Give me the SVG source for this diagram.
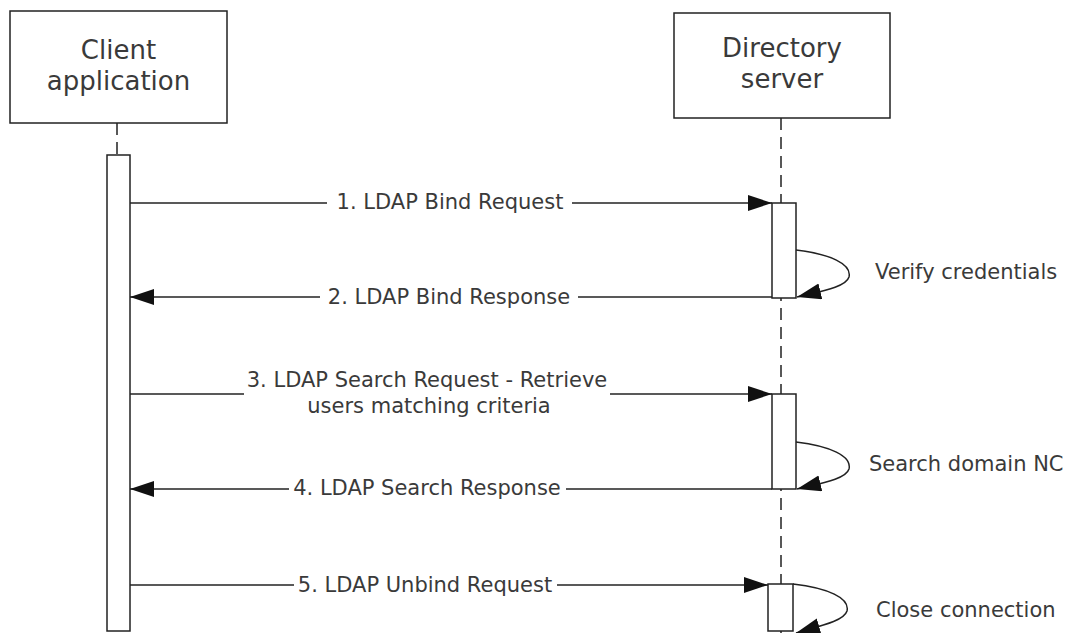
<svg xmlns="http://www.w3.org/2000/svg" width="1069" height="633" viewBox="0 0 1069 633">
<defs>
<style>
.box{fill:#fff;stroke:#222;stroke-width:1.5}
.act{fill:#fff;stroke:#222;stroke-width:1.5}
.life{fill:none;stroke:#222;stroke-width:1.5;stroke-dasharray:12 7}
.msg{fill:none;stroke:#222;stroke-width:1.5;marker-end:url(#ah)}
.seg{fill:none;stroke:#222;stroke-width:1.5}
.title{font-family:"DejaVu Sans","Verdana",sans-serif;font-size:26px;fill:#3a3a3a;text-anchor:middle}
.lbl{font-family:"DejaVu Sans","Verdana",sans-serif;font-size:21px;fill:#3a3a3a;text-anchor:middle}
.note{font-family:"DejaVu Sans","Verdana",sans-serif;font-size:21px;fill:#3a3a3a}
</style>
<marker id="ah" markerUnits="userSpaceOnUse" markerWidth="26" markerHeight="18" refX="24" refY="8" orient="auto">
<path d="M0,0 L24,8 L0,16 z" fill="#111"/>
</marker>
</defs>
<rect width="1069" height="633" fill="#fff"/>

<g id="lifelines">
<line class="life" x1="117" y1="123" x2="117" y2="155"/>
<line class="life" x1="781" y1="118" x2="781" y2="633"/>
</g>

<g id="client">
<rect class="box" x="10" y="11" width="217" height="112"/>
<text class="title" x="118.5" y="59">Client</text>
<text class="title" x="118.5" y="90">application</text>
<rect class="act" x="107" y="155" width="23" height="476"/>
</g>

<g id="server">
<rect class="box" x="674" y="13" width="216" height="105"/>
<text class="title" x="782" y="57">Directory</text>
<text class="title" x="782" y="88">server</text>
<rect class="act" x="772" y="203" width="24" height="95"/>
<rect class="act" x="772" y="394" width="24" height="95"/>
<rect class="act" x="768" y="584" width="25" height="47"/>
</g>

<g id="connectors">
<line class="seg" x1="130" y1="203" x2="327" y2="203"/>
<line class="msg" x1="572" y1="203" x2="772" y2="203"/>
<line class="seg" x1="772" y1="297" x2="578" y2="297"/>
<line class="msg" x1="320" y1="297" x2="130" y2="297"/>
<line class="seg" x1="130" y1="394" x2="244" y2="394"/>
<line class="msg" x1="610" y1="394" x2="772" y2="394"/>
<line class="seg" x1="772" y1="489" x2="566" y2="489"/>
<line class="msg" x1="289" y1="489" x2="130" y2="489"/>
<line class="seg" x1="130" y1="585" x2="294" y2="585"/>
<line class="msg" x1="557" y1="585" x2="768" y2="585"/>
<path class="msg" d="M796,250 C830,254 852,264 849,277 C846,287 822,291 797,297"/>
<path class="msg" d="M796,442 C830,446 852,456 849,469 C846,479 822,483 797,489"/>
<path class="msg" d="M793,584 C828,588 850,598 847,611 C844,621 820,626 796,633"/>
</g>

<g id="labels">
<text class="lbl" x="450" y="209">1. LDAP Bind Request</text>
<text class="lbl" x="449" y="304">2. LDAP Bind Response</text>
<text class="lbl" x="427" y="387">3. LDAP Search Request - Retrieve</text>
<text class="lbl" x="429" y="413">users matching criteria</text>
<text class="lbl" x="427" y="495">4. LDAP Search Response</text>
<text class="lbl" x="425" y="592">5. LDAP Unbind Request</text>
<text class="note" x="875" y="279">Verify credentials</text>
<text class="note" x="869" y="471">Search domain NC</text>
<text class="note" x="876" y="617">Close connection</text>
</g>
</svg>
